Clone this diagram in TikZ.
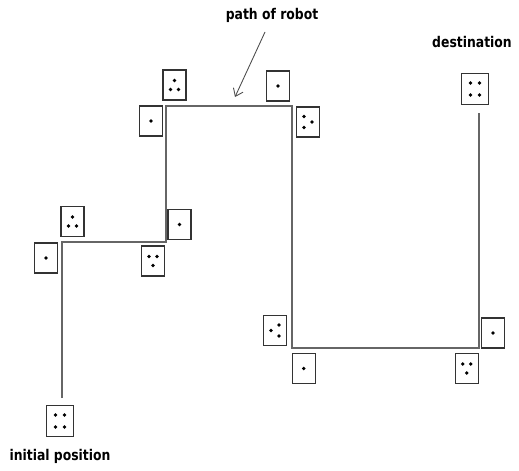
\documentclass[tikz,border=0pt]{standalone}
\usepackage{fontspec}
\usetikzlibrary{arrows.meta}
\newfontfamily\robofont[FakeStretch=0.84]{DejaVu Sans}
\tikzset{
    die/.style={draw=black!80, line width=0.75pt, minimum width=.46cm, minimum height=.6cm, inner sep=0pt},
    bigdie/.style={die, minimum width=.54cm, minimum height=.63cm},
    lbl/.style={font=\robofont\bfseries\fontsize{8.4}{10}\selectfont, inner sep=0pt},
    track/.style={draw=black!60, line width=1.1pt}
}
\newcommand{\pips}[2]{\foreach \dx/\dy in #2 {\fill ([shift={(\dx,\dy)}]#1.center) circle (1.05pt);}}
\def\pipone{0/0}
\def\pipthreeup{0/-4.5,-4/4.5,4/4.5}
\def\pipthreedown{-4/-4.5,4/-4.5,0/4.5}
\def\pipthreeleft{-4/-5.5,4/0,-4/5.5}
\def\pipthreeright{4/-5.5,-4/0,4/5.5}
\def\pipfour{-4.5/-6,4.5/-6,-4.5/6,4.5/6}
\begin{document}
\begin{tikzpicture}[x=0.02cm, y=-0.02cm]
        \useasboundingbox (0,0) rectangle (519,470);
        \node (pathlbl) at (272,15)[lbl]{path of robot};
        \node (goallbl) at (472,42)[lbl]{destination};
        \node (startlbl) at (60,456)[lbl]{initial position};
        \node (startbox) at (60,421)[bigdie]{};
        \node (goalbox) at (475,89)[bigdie]{};
        \node (a1) at (46,258)[die]{};
        \node (a2) at (72.5,221.5)[die]{};
        \node (a3) at (153,261)[die]{};
        \node (a4) at (179.5,224.5)[die]{};
        \node (b1) at (151,121)[die]{};
        \node (b2) at (174.5,85)[die]{};
        \node (b3) at (278,86)[die]{};
        \node (b4) at (308,122)[die]{};
        \node (c1) at (275,330.5)[die]{};
        \node (c2) at (303.7,368.5)[die]{};
        \node (c3) at (466.7,368.5)[die]{};
        \node (c4) at (493,333)[die]{};
        \pips{startbox}{\pipfour}
        \pips{goalbox}{\pipfour}
        \pips{a1}{\pipone}
        \pips{a2}{\pipthreeup}
        \pips{a3}{\pipthreedown}
        \pips{a4}{\pipone}
        \pips{b1}{\pipone}
        \pips{b2}{\pipthreeup}
        \pips{b3}{\pipone}
        \pips{b4}{\pipthreeleft}
        \pips{c1}{\pipthreeright}
        \pips{c2}{\pipone}
        \pips{c3}{\pipthreedown}
        \pips{c4}{\pipone}
        \coordinate (trackstart) at (62,398);
        \coordinate (trackend) at (479,113);
        \draw[track](trackstart) |- (166,242) |- (292,106) |- (479,348) -- (trackend);
        \coordinate (arrowfrom) at (265,32);
        \coordinate (arrowto) at (235,97);
        \draw[-{Straight Barb[length=4pt,width=6pt]}, black!70, line width=0.5pt](arrowfrom) -- (arrowto);
\end{tikzpicture}
\end{document}
